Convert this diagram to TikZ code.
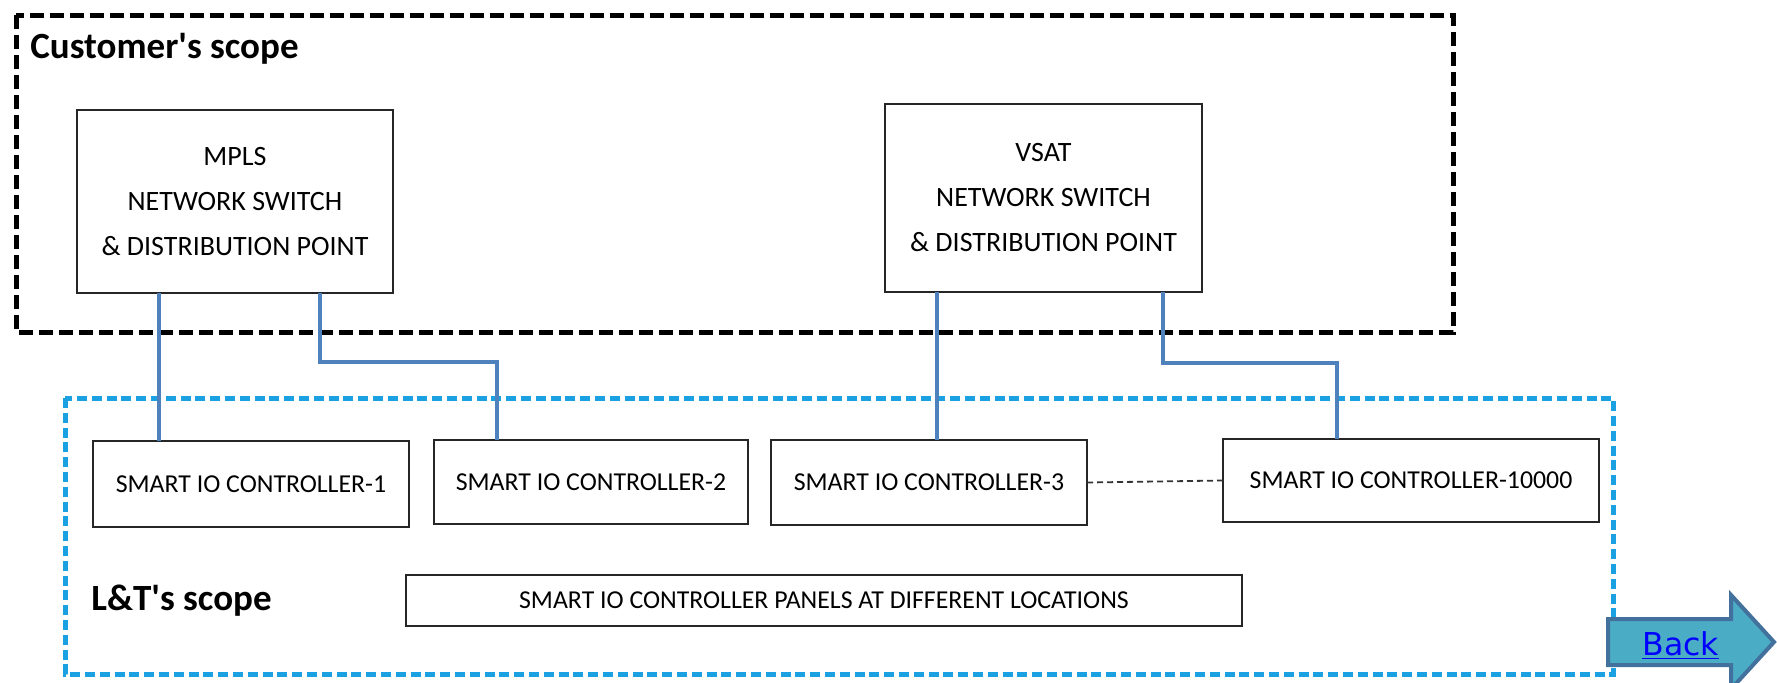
\documentclass[tikz,border=0pt]{standalone}
\usepackage{fontspec}
\setmainfont{Carlito}
\newfontfamily\backfont{DejaVu Sans}
\usetikzlibrary{calc}
\definecolor{connblue}{RGB}{79,129,189}
\definecolor{scopecyan}{RGB}{27,161,226}
\definecolor{arrowfill}{RGB}{75,172,198}
\definecolor{arrowedge}{RGB}{65,113,156}
\definecolor{linkblue}{RGB}{0,0,255}
\tikzset{
  custscope/.style={draw=black, line width=2.5pt, dash pattern=on 7pt off 3pt},
  ltscope/.style={draw=scopecyan, line width=2.5pt, dash pattern=on 5pt off 2.4pt},
  swbox/.style={draw=black!85, line width=1pt, inner sep=0pt, outer sep=0pt, align=center,
    font=\fontsize{14}{22.5}\selectfont},
  ctlbox/.style={draw=black!85, line width=1pt, inner sep=0pt, outer sep=0pt,
    font=\fontsize{12.9}{15}\selectfont},
  conn/.style={draw=connblue, line width=2.4pt},
  dots/.style={draw=black!80, line width=0.9pt, dash pattern=on 3pt off 2pt},
  scopelabel/.style={font=\bfseries\fontsize{18.5}{22}\selectfont, inner sep=0pt, anchor=base west},
}
\begin{document}
\begin{tikzpicture}[x=0.5pt, y=-0.5pt]
\useasboundingbox (0,0) rectangle (1777,682);
\fill[white] (0,0) rectangle (1777,682);
% scopes
\draw[custscope] (16,15) rectangle (1453,332);
\draw[ltscope] (65,398) rectangle (1613,674);
\node[scopelabel] (custlbl) at (30,58) {Customer\textquotesingle s scope};
\node[scopelabel] (ltlbl) at (91,610) {L\&T\textquotesingle s scope};
% switch boxes
\node[swbox, minimum width=158pt, minimum height=91.5pt] (mpls) at (235,201.5)
  {MPLS\\NETWORK SWITCH\\\& DISTRIBUTION POINT};
\node[swbox, minimum width=158.5pt, minimum height=94pt] (vsat) at (1043.5,198)
  {VSAT\\NETWORK SWITCH\\\& DISTRIBUTION POINT};
% controllers
\node[ctlbox, minimum width=158pt, minimum height=43pt] (c1) at (251,484) {SMART IO CONTROLLER-1};
\node[ctlbox, minimum width=157pt, minimum height=42pt] (c2) at (591,482) {SMART IO CONTROLLER-2};
\node[ctlbox, minimum width=158pt, minimum height=42.5pt] (c3) at (929,482.5) {SMART IO CONTROLLER-3};
\node[ctlbox, minimum width=188pt, minimum height=41.5pt] (c10) at (1411,480.5) {SMART IO CONTROLLER-10000};
\node[ctlbox, minimum width=418pt, minimum height=25.5pt] (panels) at (824,600.5) {SMART IO CONTROLLER PANELS AT DIFFERENT LOCATIONS};
% connectors
\draw[conn] ($(mpls.south west)+(82,0)$) -- ($(c1.north west)+(66,0)$);
\draw[conn] ($(mpls.south west)+(243,0)$) -- ++(0,69) -| ($(c2.north west)+(63,0)$);
\draw[conn] ($(vsat.south west)+(52,0)$) -- ($(c3.north west)+(166,0)$);
\draw[conn] ($(vsat.south west)+(278,0)$) -- ++(0,71) -| ($(c10.north west)+(114,0)$);
\draw[dots] (c3.east) -- (c10.west);
% back arrow
\draw[fill=arrowfill, draw=arrowedge, line width=2pt, line join=miter]
  (1608,619) -- (1731,619) -- (1731,595) -- (1774,642) -- (1731,689) -- (1731,665) -- (1608,665) -- cycle;
\node[inner sep=0pt, anchor=base west, text=linkblue, font=\backfont\fontsize{15.75}{18}\selectfont] (back) at (1642,655) {\underline{Back}};
\end{tikzpicture}
\end{document}
